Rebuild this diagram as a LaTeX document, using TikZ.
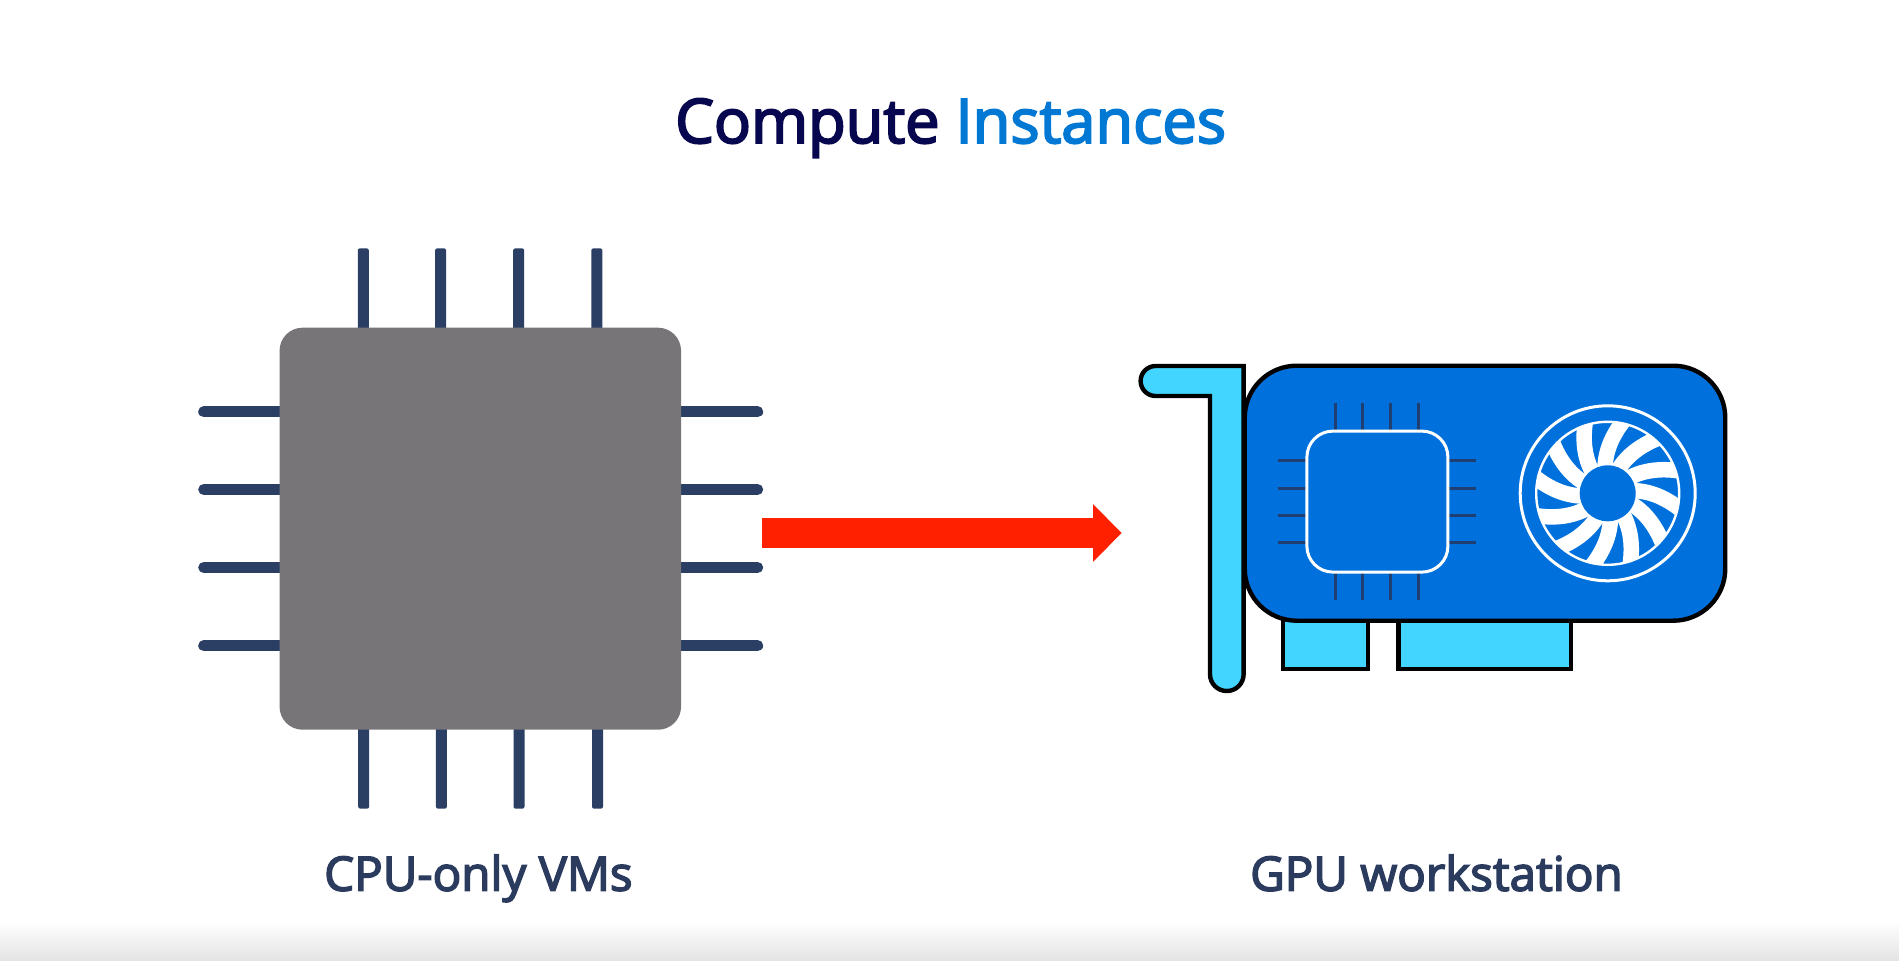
\documentclass[tikz,border=0pt]{standalone}
\usepackage{fontspec}
\setmainfont{Open Sans}[FakeBold=3.2]
\usetikzlibrary{arrows.meta}
\definecolor{navy}{HTML}{07074F}
\definecolor{azure}{HTML}{0078D4}
\definecolor{slate}{HTML}{2A3B5E}
\definecolor{pinblue}{HTML}{2A3F63}
\definecolor{chipgrey}{HTML}{787579}
\definecolor{boardblue}{HTML}{0071DC}
\definecolor{cyanpart}{HTML}{42D5FF}
\definecolor{redarrow}{HTML}{FF2000}
\definecolor{chippin}{HTML}{1F3F73}
\tikzset{
  sidepin/.style={draw=pinblue,line width=11.2pt,line cap=round},
  vertpin/.style={fill=pinblue,rounded corners=2pt},
  smallpin/.style={draw=chippin,line width=3pt},
  partline/.style={draw=black,line width=4.4pt,fill=cyanpart,line join=miter},
  blade/.style={draw=white,line width=15.5pt},
  title/.style={font=\fontsize{61.4}{62}\selectfont,anchor=base west,inner sep=0pt},
  caption/.style={font=\fontsize{47.5}{48}\selectfont,text=slate,anchor=base west,inner sep=0pt}
}
\begin{document}
\begin{tikzpicture}[x=1pt,y=-1pt]
\useasboundingbox (0,0) rectangle (1899,961);
\fill[white] (0,0) rectangle (1899,961);
\shade[top color=white,bottom color=black!11] (0,922) rectangle (1899,961);

% title
\node[title] (ttl) at (675,143) {\textcolor{navy}{Compute} \textcolor{azure}{Instances}};

% CPU pins
\foreach \x in {363.3,440.6,518.7,596.8}
  \fill[vertpin] (\x-5.5,248.4) rectangle (\x+5.5,340);
\foreach \x in {363.7,441.4,519,597.5}
  \fill[vertpin] (\x-5.5,720) rectangle (\x+5.5,808.6);
\foreach \y in {411.8,489.5,567.5,645.6} {
  \draw[sidepin] (203.8,\y) -- (300,\y);
  \draw[sidepin] (757.6,\y) -- (660,\y);
}
\node[fill=chipgrey,rounded corners=23pt,minimum width=401.5pt,minimum height=402pt,inner sep=0pt] (cpu) at (480.3,528.7) {};

% arrow
\coordinate (arrowfrom) at (761.7,533);
\coordinate (arrowto) at (1121.7,533);
\draw[redarrow,line width=29.4pt,-{Triangle[length=28.7pt,width=56pt,sep=0pt]}] (arrowfrom) -- (arrowto);

% edge connectors
\draw[partline] (1283,600) rectangle (1368,669);
\draw[partline] (1398.5,600) rectangle (1570.7,669);

% board
\node[draw=black,line width=4.4pt,fill=boardblue,rounded corners=52pt,minimum width=480.5pt,minimum height=255pt,inner sep=0pt] (board) at (1485,493.2) {};

% bracket
\draw[partline] (1243.6,366) [rounded corners=15pt] -- (1140.6,366) -- (1140.6,396) [sharp corners] -- (1210,396) [rounded corners=16.7pt] -- (1210,691) -- (1243.6,691) [sharp corners] -- cycle;

% GPU chip pins
\foreach \x in {1335.5,1362.8,1390.5,1418.5} \draw[smallpin] (\x,403.3) -- (\x,600);
\foreach \y in {460.7,488,515.3,542.7} \draw[smallpin] (1278,\y) -- (1476,\y);
\node[draw=white,line width=3pt,fill=boardblue,rounded corners=26pt,minimum width=141pt,minimum height=141pt,inner sep=0pt] (gpuchip) at (1377.4,501.6) {};

% fan
\coordinate (fan) at (1607.7,493.3);
\node[draw=white,line width=3pt,circle,minimum size=175pt,inner sep=0pt] (fanring) at (fan) {};
\begin{scope}
  \clip (fan) circle[radius=72];
  \foreach \a in {0,30,...,330} {
    \draw[blade,shift={(fan)}] ({26*cos(\a+96)},{-26*sin(\a+96)})
      .. controls ({42*cos(\a+93)},{-42*sin(\a+93)}) and ({58*cos(\a+86)},{-58*sin(\a+86)})
      .. ({76*cos(\a+77)},{-76*sin(\a+77)});
  }
\end{scope}
\node[draw=white,line width=2.4pt,circle,minimum size=143pt,inner sep=0pt] (fanwheel) at (fan) {};
\node[fill=boardblue,circle,minimum size=56pt,inner sep=0pt] (fanhub) at (fan) {};

% captions
\node[caption] (cpucap) at (324,890.7) {CPU-only VMs};
\node[caption] (gpucap) at (1250,890.7) {GPU workstation};
\end{tikzpicture}
\end{document}
